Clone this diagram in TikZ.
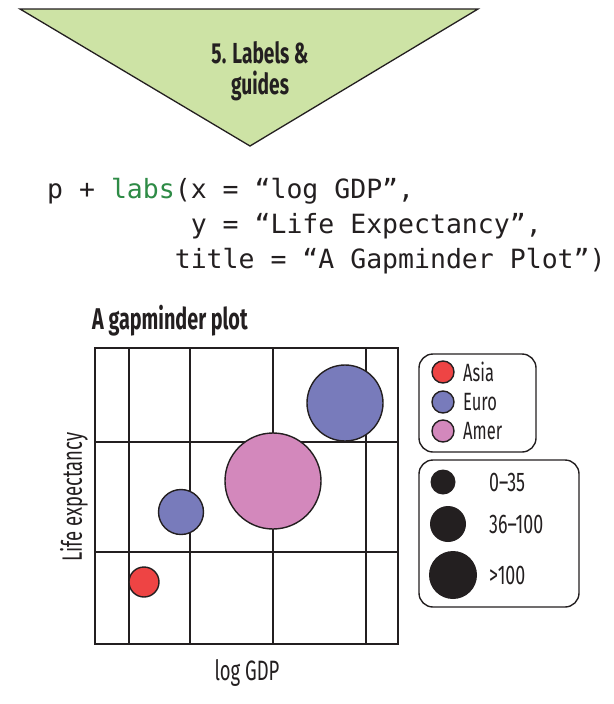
\documentclass[tikz,border=0pt]{standalone}
\usepackage{fontspec}
\setmainfont{Fira Sans}[FakeStretch=0.66]
\newfontfamily\codefont{DejaVu Sans Mono}
\definecolor{trigreen}{HTML}{CDE3A5}
\definecolor{codegreen}{HTML}{2E8B46}
\definecolor{ink}{HTML}{231F20}
\definecolor{asiared}{HTML}{EE4444}
\definecolor{eurblue}{HTML}{787BBB}
\definecolor{amerpink}{HTML}{D388BC}
\begin{document}
\begin{tikzpicture}[x=1pt,y=-1pt,
  txt/.style={inner sep=0pt,text=ink},
  codeline/.style={inner sep=0pt,anchor=base west,text=ink,font=\codefont\fontsize{26.5}{30}\selectfont},
  bubble/.style={circle,draw=ink,line width=1.4pt,inner sep=0pt,minimum size=#1},
  legbox/.style={draw=ink,line width=1.4pt,rounded corners=14pt},
  dot/.style={circle,fill=ink,inner sep=0pt,minimum size=#1},
  legtxt/.style={inner sep=0pt,anchor=west,text=ink,font=\fontsize{25}{28}\selectfont},
  numtxt/.style={legtxt,font=\fontsize{27}{30}\selectfont},
  grid/.style={draw=ink,line width=1.3pt}
]
\useasboundingbox (0,0) rectangle (613,704);
% funnel triangle
\draw[fill=trigreen,draw=ink,line width=1.3pt] (20,9) -- (478,9) -- (250,146) -- cycle;
\node[txt,align=center,font=\bfseries\fontsize{29}{31}\selectfont] (step) at (260,71) {5. Labels \&\\guides};
% code
\node[codeline] (c1) at (47,198) {p + \textcolor{codegreen}{labs}(x = “log GDP”,};
\node[codeline] (c2) at (47,233) {\hphantom{p + labs(}y = “Life Expectancy”,};
\node[codeline] (c3) at (47,268) {\hphantom{p + labs}title = “A Gapminder Plot”)};
% plot title
\node[txt,anchor=west,font=\bfseries\fontsize{30}{32}\selectfont] (ptitle) at (92,321) {A gapminder plot};
% grid
\draw[grid] (129,348) -- (129,644);
\draw[grid] (190,348) -- (190,644);
\draw[grid] (273,348) -- (273,644);
\draw[grid] (366,348) -- (366,644);
\draw[grid] (95,442) -- (398,442);
\draw[grid] (95,552) -- (398,552);
\node[draw=ink,line width=2pt,inner sep=0pt,minimum width=303pt,minimum height=296pt] (frame) at (246.5,496) {};
% bubbles
\node[bubble=76pt,fill=eurblue] (b1) at (345,403) {};
\node[bubble=96pt,fill=amerpink] (b2) at (273,481) {};
\node[bubble=45pt,fill=eurblue] (b3) at (181,512) {};
\node[bubble=30pt,fill=asiared] (b4) at (144,582) {};
% axis labels
\node[txt,rotate=90,font=\fontsize{28}{30}\selectfont] (ylab) at (74,497) {Life expectancy};
\node[txt,font=\fontsize{28}{30}\selectfont] (xlab) at (247,673) {log GDP};
% legend colour
\draw[legbox] (419,354) rectangle (536,452);
\node[bubble=22pt,fill=asiared] (la) at (443,372) {};
\node[bubble=22pt,fill=eurblue] (le) at (443,402) {};
\node[bubble=22pt,fill=amerpink] (lm) at (443,431) {};
\node[legtxt] (ta) at (463,372) {Asia};
\node[legtxt] (te) at (463,402) {Euro};
\node[legtxt] (tm) at (463,431) {Amer};
% legend size
\draw[legbox] (419,460) rectangle (579,607);
\node[dot=25pt] (s1) at (443,482) {};
\node[dot=36pt] (s2) at (448,524) {};
\node[dot=48pt] (s3) at (453,575) {};
\node[numtxt] (t1) at (489,482) {0–35};
\node[numtxt] (t2) at (489,524) {36–100};
\node[numtxt] (t3) at (489,575) {>100};
\end{tikzpicture}
\end{document}
